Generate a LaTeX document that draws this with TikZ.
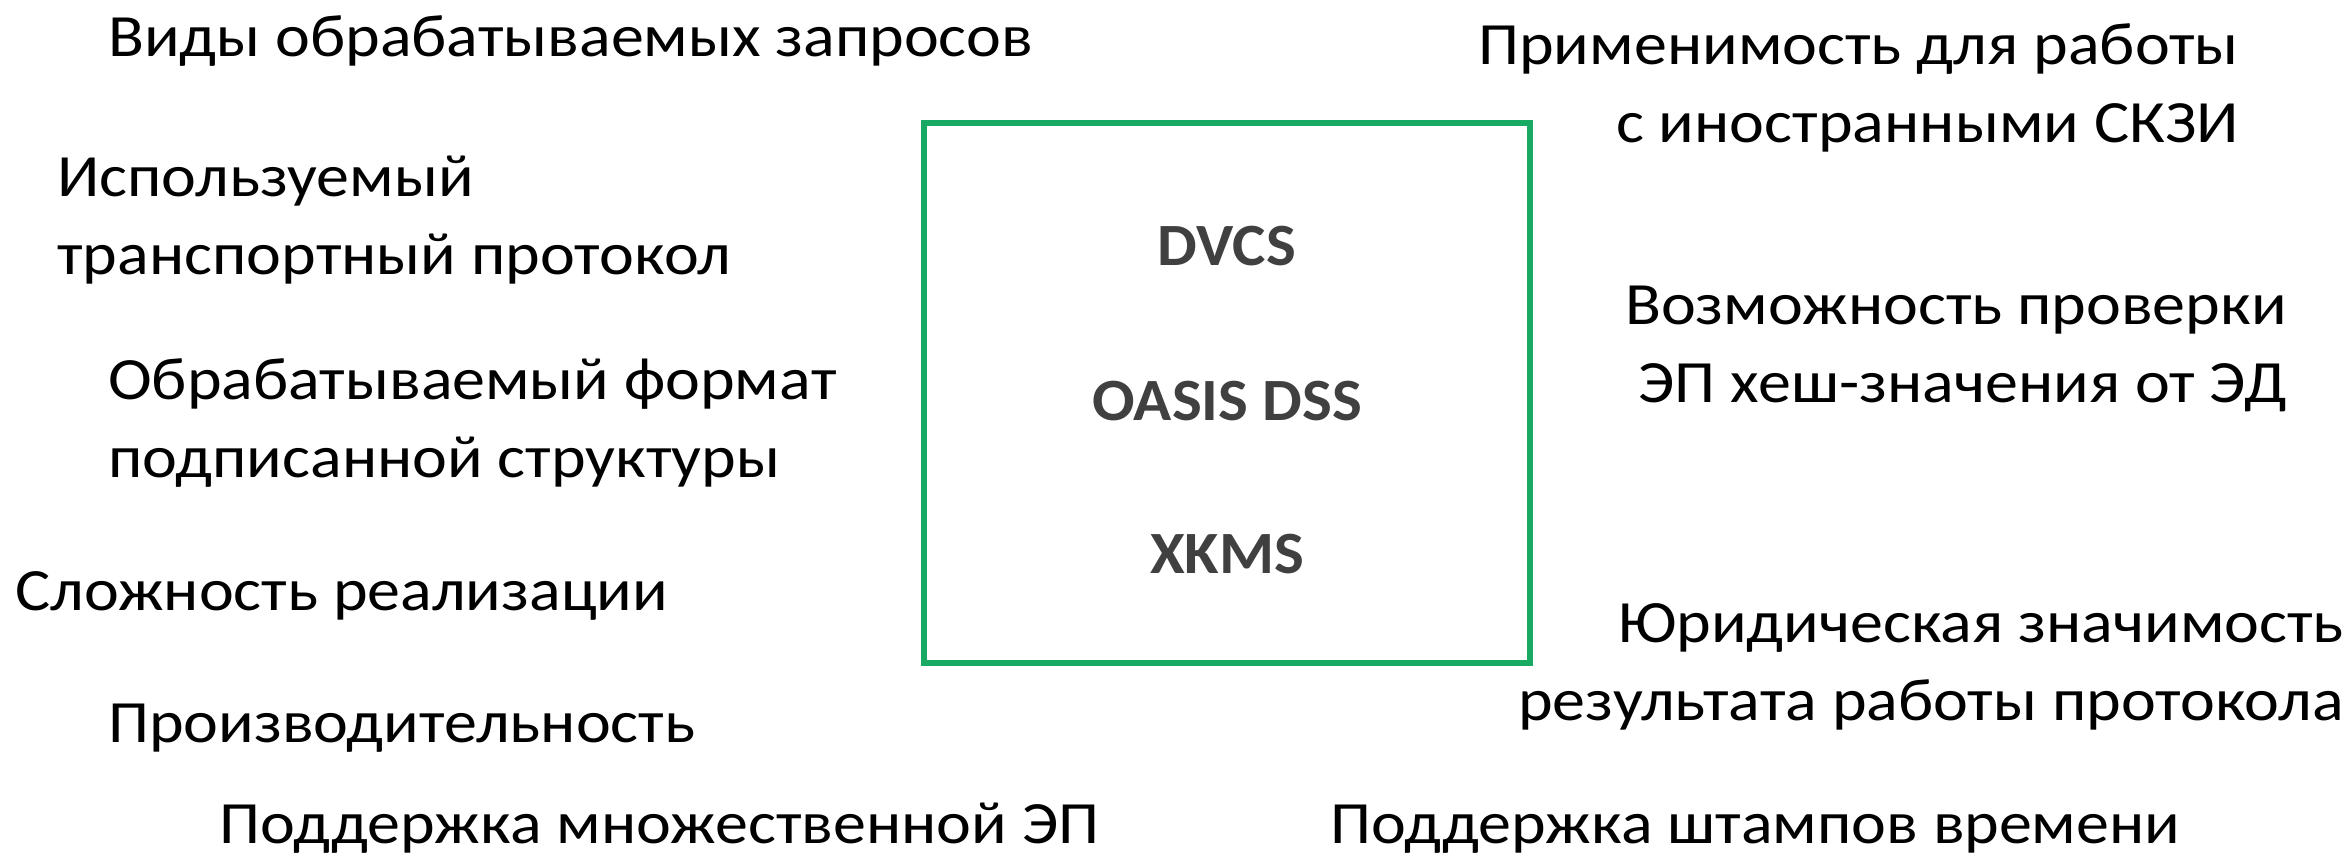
\documentclass[tikz,border=0pt]{standalone}
\usepackage{fontspec}
\setmainfont{Carlito}[FakeStretch=1.10]
\newfontfamily\protofont{Carlito}[FakeStretch=1.05]
\usetikzlibrary{positioning}
\definecolor{framegreen}{RGB}{24,170,99}
\definecolor{protogray}{RGB}{64,64,64}
\tikzset{
  crit/.style={font=\fontsize{60}{78}\selectfont, inner sep=0pt, align=left, anchor=base west},
  critr/.style={crit, align=right, anchor=base east},
  proto/.style={font=\protofont\fontsize{60}{70}\selectfont\bfseries, text=protogray, inner sep=0pt, anchor=base},
}

\begin{document}
\begin{tikzpicture}[x=1pt,y=-1pt]
    \useasboundingbox (0,0) rectangle (2351,855);

    % Frame with the protocols
    \node[draw=framegreen, line width=6pt, minimum width=606pt, minimum height=540pt] (box) at (1227,393) {};
    \node[proto] (dvcs) at (1227,265) {DVCS};
    \node[proto] (dss)  at (1227,420) {OASIS DSS};
    \node[proto] (xkms) at (1227,573) {XKMS};

    % Criteria on the left (base = last line)
    \node[crit] (vidy)  at (108,56)  {Виды обрабатываемых запросов};
    \node[crit] (trans) at (57,274)  {Используемый\\транспортный протокол};
    \node[crit] (fmt)   at (108,477) {Обрабатываемый формат\\подписанной структуры};
    \node[crit] (slozh) at (15,610)  {Сложность реализации};
    \node[crit] (proiz) at (108,742) {Производительность};
    \node[crit] (mnozh) at (219,843) {Поддержка множественной ЭП};

    % Criteria on the right
    \node[critr] (inostr) at (2239,142) {Применимость для работы\\с иностранными СКЗИ};
    \node[critr] (hash)   at (2287,402) {Возможность проверки\\ЭП хеш-значения от ЭД};
    \node[critr] (jur)    at (2344,720) {Юридическая значимость\\результата работы протокола};
    \node[crit]  (stamp)  at (1330,843) {Поддержка штампов времени};
\end{tikzpicture}
\end{document}
